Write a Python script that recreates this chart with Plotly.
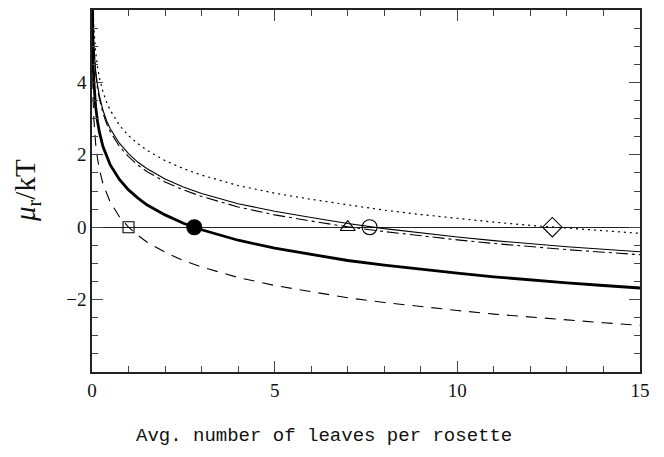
import plotly.graph_objects as go

# x positions where curves were read
x_pts = [0.002, 0.005, 0.01, 0.02, 0.03, 0.05, 0.075, 0.1, 0.15, 0.2, 0.3, 0.4, 0.5, 0.75,
         1, 1.25, 1.5, 2, 2.5, 3, 4, 5, 6, 7, 8, 9, 10, 11, 12, 13, 14, 15]

mu_thick = [7.24, 6.33, 5.63, 4.94, 4.54, 4.03, 3.62, 3.33, 2.93, 2.64, 2.23, 1.95, 1.72, 1.32,
            1.03, 0.81, 0.62, 0.34, 0.11, -0.07, -0.36, -0.58, -0.76, -0.92, -1.05, -1.17, -1.27,
            -1.37, -1.46, -1.54, -1.61, -1.68]
mu_dashed = [6.22, 5.30, 4.61, 3.91, 3.51, 3.00, 2.59, 2.30, 1.90, 1.61, 1.20, 0.92, 0.69, 0.29,
             0.0, -0.22, -0.41, -0.69, -0.92, -1.10, -1.39, -1.61, -1.79, -1.95, -2.08, -2.20,
             -2.30, -2.40, -2.49, -2.56, -2.64, -2.71]
mu_dashdot = [8.16, 7.24, 6.55, 5.86, 5.45, 4.94, 4.54, 4.25, 3.84, 3.56, 3.15, 2.86, 2.64, 2.23,
              1.95, 1.72, 1.54, 1.25, 1.03, 0.85, 0.56, 0.34, 0.17, 0.01, -0.12, -0.24, -0.35,
              -0.45, -0.54, -0.62, -0.69, -0.76]
mu_thin = [8.24, 7.33, 6.63, 5.94, 5.54, 5.02, 4.62, 4.33, 3.93, 3.64, 3.23, 2.94, 2.72, 2.32,
           2.03, 1.80, 1.62, 1.33, 1.11, 0.93, 0.65, 0.44, 0.27, 0.10, -0.04, -0.16, -0.27,
           -0.37, -0.46, -0.54, -0.61, -0.68]
mu_dotted = [8.75, 7.83, 7.14, 6.45, 6.04, 5.53, 5.12, 4.84, 4.43, 4.14, 3.74, 3.45, 3.23, 2.82,
             2.53, 2.31, 2.13, 1.84, 1.62, 1.44, 1.15, 0.94, 0.77, 0.61, 0.47, 0.35, 0.24,
             0.14, 0.05, -0.03, -0.11, -0.17]

# crossing points (mu = 0)
cross_x = [1.0, 2.8, 7.0, 7.6, 12.6]
cross_y = [0, 0, 0, 0, 0]
cross_symbols = ["square-open", "circle", "triangle-up-open", "circle-open", "diamond-open"]
cross_sizes = [11, 15, 13, 15, 15]

x_ticks = [0, 5, 10, 15]
y_ticks = [-2, 0, 2, 4]

fig = go.Figure()

fig.add_trace(go.Scatter(x=x_pts, y=mu_dotted, mode="lines",
                         line=dict(color="black", width=1.2, dash="2px,4px")))
fig.add_trace(go.Scatter(x=x_pts, y=mu_thin, mode="lines",
                         line=dict(color="black", width=1.1)))
fig.add_trace(go.Scatter(x=x_pts, y=mu_dashdot, mode="lines",
                         line=dict(color="black", width=1.1, dash="12px,4px,3px,4px")))
fig.add_trace(go.Scatter(x=x_pts, y=mu_dashed, mode="lines",
                         line=dict(color="black", width=1.1, dash="11px,8px")))
fig.add_trace(go.Scatter(x=x_pts, y=mu_thick, mode="lines",
                         line=dict(color="black", width=2.8)))
fig.add_trace(go.Scatter(x=cross_x, y=cross_y, mode="markers",
                         marker=dict(symbol=cross_symbols, size=cross_sizes, color="black",
                                     opacity=1, line=dict(color="black", width=1.1)),
                         cliponaxis=False))

axis_common = dict(showline=True, linecolor="#222", linewidth=1.5, mirror="allticks",
                   ticks="inside", tickcolor="#444", tickwidth=1.2, ticklen=11,
                   showgrid=False, tickfont=dict(family="Liberation Serif", size=19, color="#111"))

fig.update_layout(
    width=664, height=457,
    margin=dict(l=92, r=24, t=8, b=85),
    paper_bgcolor="white", plot_bgcolor="white",
    showlegend=False,
    xaxis=dict(range=[0, 15], tickvals=x_ticks, ticktext=[str(v) for v in x_ticks],
               minor=dict(dtick=1, tick0=0, ticks="inside", ticklen=6, tickcolor="#444",
                          tickwidth=1.1),
               zeroline=False,
               **axis_common),
    yaxis=dict(range=[-4, 6], tickvals=y_ticks, ticktext=["\u22122", "0", "2", "4"],
               minor=dict(dtick=0.5, tick0=0, ticks="inside", ticklen=6, tickcolor="#444",
                          tickwidth=1.1),
               zeroline=True, zerolinecolor="#222", zerolinewidth=1.1,
               **axis_common),
    annotations=[
        dict(text="Avg. number of leaves per rosette", xref="paper", yref="paper",
             x=(324 - 92) / 548, y=-(436 - 372) / 364, xanchor="center", yanchor="middle",
             showarrow=False, font=dict(family="Liberation Mono", size=19, color="#111")),
        dict(text="<i>\u03bc</i><sub>r</sub>/kT", xref="paper", yref="paper",
             x=-(92 - 27) / 548, y=(372 - 190) / 364, xanchor="center", yanchor="middle",
             textangle=-90, showarrow=False,
             font=dict(family="Liberation Serif", size=29, color="#111")),
    ],
)

fig.write_html("out.html", post_script="document.body.style.margin='0';",
               config={"displayModeBar": False})
